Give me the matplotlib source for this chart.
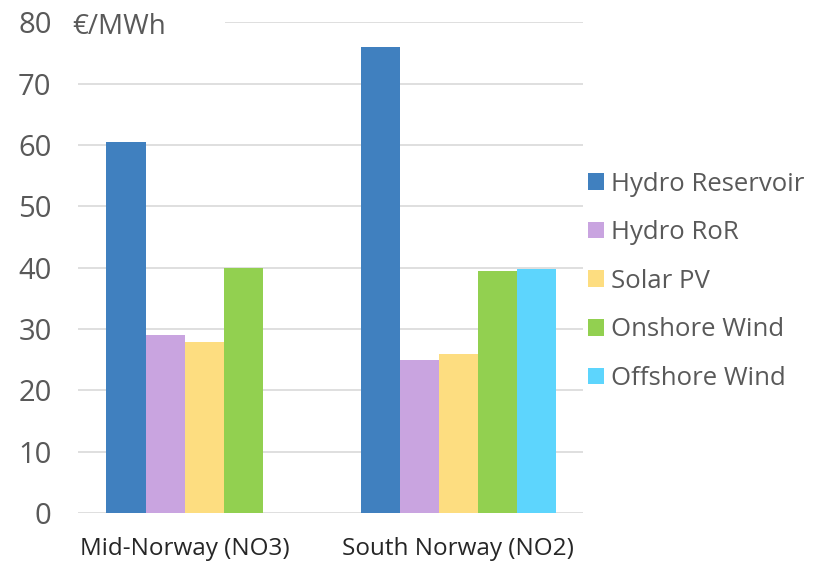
import numpy as np
import matplotlib
matplotlib.use('Agg')
import matplotlib.pyplot as plt
from matplotlib.patches import Rectangle

# Dados (€/MWh)
regioes = ['Mid-Norway (NO3)', 'South Norway (NO2)']
tecnologias = ['Hydro Reservoir', 'Hydro RoR', 'Solar PV', 'Onshore Wind', 'Offshore Wind']
valores = {
    'Hydro Reservoir': [60.5, 75.9],
    'Hydro RoR': [29.1, 25.0],
    'Solar PV': [27.8, 25.9],
    'Onshore Wind': [40.0, 39.5],
    'Offshore Wind': [np.nan, 39.8],
}
cores = ['#4080bf', '#c9a4e0', '#fddd80', '#92d050', '#5dd5fd']
y_ticks = [0, 10, 20, 30, 40, 50, 60, 70, 80]

plt.rcParams['font.family'] = ['Open Sans', 'DejaVu Sans']

fig = plt.figure(figsize=(8.34, 5.66), dpi=100)
ax = fig.add_axes([0.0935, 0.0936, 0.6055, 0.867])

largura = 0.154
n = len(tecnologias)
x = np.arange(len(regioes))

centros = [[] for _ in regioes]
for i, tec in enumerate(tecnologias):
    pos = x + (i - (n - 1) / 2) * largura
    vals = np.array(valores[tec], dtype=float)
    ax.bar(pos, np.nan_to_num(vals), width=largura, color=cores[i],
           label=tec, zorder=3, edgecolor='none')
    for j, v in enumerate(vals):
        if not np.isnan(v):
            centros[j].append(pos[j])

ax.set_xlim(-0.497, 1.49)
ax.set_ylim(0, 80)
ax.set_yticks(y_ticks)
ax.set_yticklabels([str(t) for t in y_ticks], fontsize=21, color='#595959')
ax.set_xticks([np.mean(c) for c in centros])
ax.set_xticklabels(regioes, fontsize=17.5, color='#262626')
ax.tick_params(axis='both', length=0)
ax.tick_params(axis='y', pad=19)
ax.tick_params(axis='x', pad=17)

ax.grid(axis='y', color='#d9d9d9', linewidth=1.2, zorder=0)
ax.set_axisbelow(True)
for s in ax.spines.values():
    s.set_visible(False)

# caixa branca do título do eixo (cobre o início da grade em 80)
ax.add_patch(Rectangle((-0.5, 77), 0.58, 4, facecolor='white', edgecolor='none',
                       zorder=2, clip_on=False))
ax.text(-0.518, 79.2, '€/MWh', fontsize=20, color='#595959', va='center', ha='left',
        zorder=4)

fig.legend(loc='center left', bbox_to_anchor=(0.693, 0.503), frameon=False,
           fontsize=18.5, labelcolor='#595959', handlelength=0.62, handleheight=0.62,
           handletextpad=0.28, labelspacing=0.92, borderaxespad=0)

plt.savefig('out.png', dpi=100)
